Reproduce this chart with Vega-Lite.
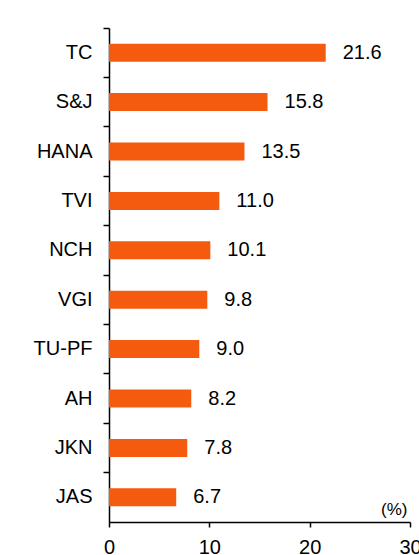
{
  "$schema": "https://vega.github.io/schema/vega-lite/v6.json",
  "autosize": "none",
  "width": 301,
  "height": 494,
  "padding": {"left": 109, "top": 28, "right": 9, "bottom": 33},
  "background": "white",
  "config": {
    "view": {"stroke": null},
    "font": "Liberation Sans",
    "axis": {"grid": false, "domainColor": "black", "tickColor": "black", "labelColor": "black", "labelFont": "Liberation Sans", "labelFontSize": 20, "domainWidth": 1.5, "tickWidth": 1.5}
  },
  "data": {
    "values": [
      {"name": "TC", "value": 21.6},
      {"name": "S&J", "value": 15.8},
      {"name": "HANA", "value": 13.5},
      {"name": "TVI", "value": 11.0},
      {"name": "NCH", "value": 10.1},
      {"name": "VGI", "value": 9.8},
      {"name": "TU-PF", "value": 9.0},
      {"name": "AH", "value": 8.2},
      {"name": "JKN", "value": 7.8},
      {"name": "JAS", "value": 6.7}
    ]
  },
  "encoding": {
    "y": {
      "field": "name", "type": "nominal", "sort": null,
      "scale": {"paddingInner": 0, "paddingOuter": 0},
      "axis": {"title": null, "bandPosition": 0, "tickSize": 6, "labelPadding": 11}
    },
    "x": {
      "field": "value", "type": "quantitative",
      "scale": {"domain": [0, 30], "nice": false},
      "axis": {"values": [0, 10, 20, 30], "tickSize": 5, "labelPadding": 10, "labelFlush": false, "labelOverlap": false, "title": "(%)", "titleFont": "Liberation Sans", "titleFontSize": 17, "titleFontWeight": "normal", "titleColor": "black", "titleX": 298, "titleY": -7.5, "titleAlign": "right", "titleBaseline": "alphabetic", "titleAnchor": null}
    }
  },
  "layer": [
    {"mark": {"type": "bar", "size": 18, "color": "#F45B0E"}},
    {
      "mark": {"type": "text", "align": "left", "baseline": "middle", "dx": 17, "fontSize": 20, "color": "black", "font": "Liberation Sans"},
      "encoding": {"text": {"field": "value", "type": "quantitative", "format": ".1f"}}
    }
  ]
}
